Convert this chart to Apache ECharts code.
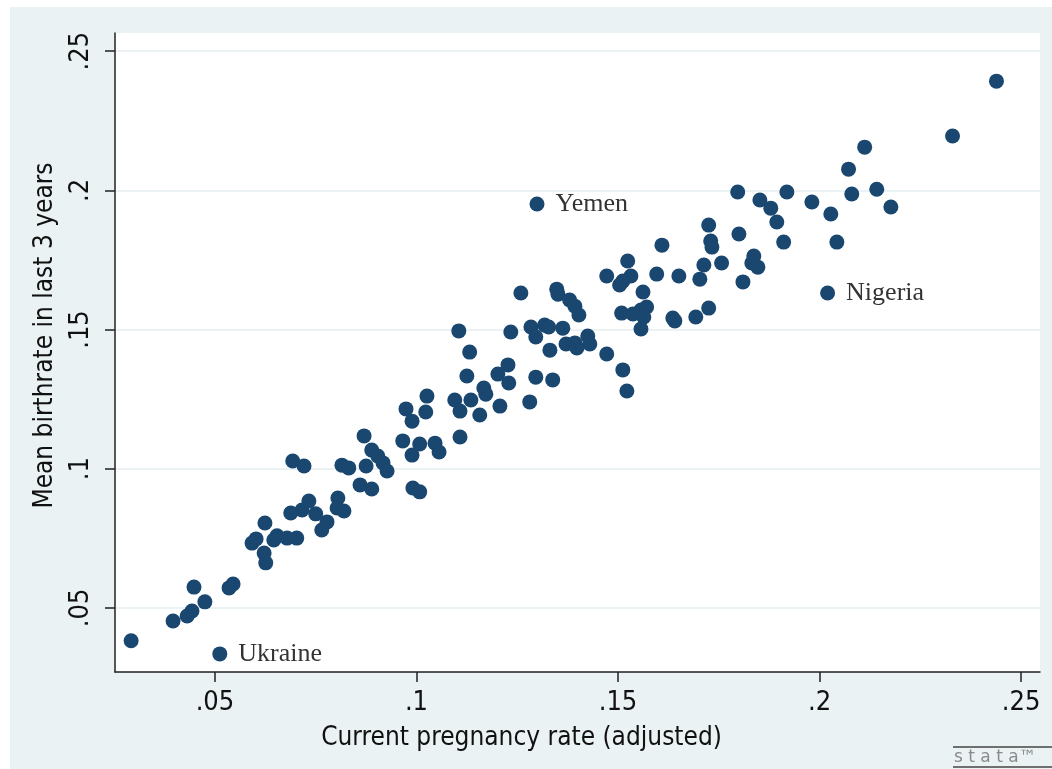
<!DOCTYPE html>
<html>
<head>
<meta charset="utf-8">
<script src="https://cdn.jsdelivr.net/npm/echarts@6/dist/echarts.min.js"></script>
<style>
  html, body { margin: 0; padding: 0; background: #fff; }
  #chart { width: 1052px; height: 769px; }
</style>
</head>
<body>
<div id="chart"></div>
<script>
// Datos (tasa de embarazo vs. natalidad)
const pregnancyRate = [
  0.0292, 0.0512, 0.0396, 0.0431, 0.0443, 0.0475, 0.0448, 0.0535, 0.0545, 0.0592,
  0.0602, 0.0624, 0.0622, 0.0626, 0.0646, 0.0654, 0.0679, 0.0703, 0.0688, 0.0716,
  0.0733, 0.0750, 0.0765, 0.0778, 0.0693, 0.0721, 0.0815, 0.0832, 0.0805, 0.0803,
  0.0820, 0.0860, 0.0889, 0.0870, 0.0889, 0.0904, 0.0917, 0.0927, 0.0875, 0.0966,
  0.1008, 0.1046, 0.1056, 0.0989, 0.0991, 0.1008, 0.0974, 0.1026, 0.1023, 0.0989,
  0.1105, 0.1132, 0.1125, 0.1095, 0.1108, 0.1135, 0.1157, 0.1108, 0.1167, 0.1172,
  0.1202, 0.1227, 0.1229, 0.1207, 0.1234, 0.1259, 0.1284, 0.1296, 0.1318, 0.1328,
  0.1363, 0.1331, 0.1371, 0.1393, 0.1398, 0.1425, 0.1430, 0.1472, 0.1512, 0.1522,
  0.1281, 0.1296, 0.1338, 0.1299, 0.1348, 0.1351, 0.1380, 0.1393, 0.1403, 0.1472,
  0.1524, 0.1532, 0.1512, 0.1504, 0.1562, 0.1509, 0.1537, 0.1557, 0.1571, 0.1564,
  0.1557, 0.1609, 0.1596, 0.1651, 0.1636, 0.1641, 0.1693, 0.1703, 0.1713, 0.1725,
  0.1725, 0.1730, 0.1733, 0.1757, 0.1797, 0.1800, 0.1810, 0.1832, 0.1837, 0.1847,
  0.1852, 0.1879, 0.1894, 0.1919, 0.1911, 0.1981, 0.2028, 0.2043, 0.2072, 0.2080,
  0.2112, 0.2142, 0.2177, 0.2330, 0.2439, 0.2020
];
const birthRate = [
  0.0382, 0.0335, 0.0453, 0.0471, 0.0489, 0.0522, 0.0575, 0.0572, 0.0586, 0.0733,
  0.0748, 0.0805, 0.0697, 0.0662, 0.0744, 0.0759, 0.0751, 0.0751, 0.0841, 0.0852,
  0.0884, 0.0838, 0.0780, 0.0809, 0.1028, 0.1010, 0.1013, 0.1003, 0.0895, 0.0859,
  0.0848, 0.0942, 0.0927, 0.1118, 0.1067, 0.1046, 0.1021, 0.0992, 0.1010, 0.1100,
  0.1089, 0.1092, 0.1060, 0.1049, 0.0931, 0.0917, 0.1215, 0.1261, 0.1204, 0.1171,
  0.1495, 0.1419, 0.1333, 0.1247, 0.1207, 0.1247, 0.1193, 0.1114, 0.1290, 0.1268,
  0.1340, 0.1373, 0.1308, 0.1225, 0.1491, 0.1631, 0.1509, 0.1473, 0.1516, 0.1509,
  0.1505, 0.1426, 0.1448, 0.1452, 0.1434, 0.1477, 0.1448, 0.1412, 0.1355, 0.1279,
  0.1240, 0.1329, 0.1319, 0.1951, 0.1645, 0.1627, 0.1606, 0.1584, 0.1552, 0.1692,
  0.1746, 0.1692, 0.1674, 0.1660, 0.1635, 0.1559, 0.1556, 0.1570, 0.1581, 0.1545,
  0.1502, 0.1803, 0.1699, 0.1692, 0.1541, 0.1531, 0.1545, 0.1681, 0.1732, 0.1577,
  0.1875, 0.1818, 0.1796, 0.1739, 0.1994, 0.1843, 0.1671, 0.1739, 0.1764, 0.1724,
  0.1965, 0.1936, 0.1886, 0.1994, 0.1814, 0.1958, 0.1915, 0.1814, 0.2076, 0.1987,
  0.2155, 0.2004, 0.1940, 0.2195, 0.2392, 0.1631
];
// Etiquetas de países (índice -> nombre)
const labelledIndex = [1, 83, 135];
const labelledName = ['Ukraine', 'Yemen', 'Nigeria'];

const xTicks = [0.05, 0.1, 0.15, 0.2, 0.25];
const yTicks = [0.05, 0.1, 0.15, 0.2, 0.25];

const xTitle = 'Current pregnancy rate (adjusted)';
const yTitle = 'Mean birthrate in last 3 years';

const MARKER = '#1a476f';
const BG = '#eaf2f3';
const sans = '"DejaVu Sans Condensed", "Liberation Sans Narrow", Arial, sans-serif';

function stripZero(v) {
    return String(v).replace(/^0\./, '.');
}

const points = pregnancyRate.map(function(x, i) {
    const k = labelledIndex.indexOf(i);
    const item = { value: [x, birthRate[i]] };
    if (k >= 0) {
        item.name = labelledName[k];
        item.label = { show: true };
    }
    return item;
});

const chart = echarts.init(document.getElementById('chart'));

chart.setOption({
    backgroundColor: '#ffffff',
    animation: false,
    graphic: [
        {
            type: 'rect',
            z: -100,
            silent: true,
            shape: { x: 10, y: 7, width: 1052, height: 769 },
            style: { fill: BG }
        },
        // Logo de Stata (abajo a la derecha)
        {
            type: 'line',
            shape: { x1: 953, y1: 747, x2: 1052, y2: 747 },
            style: { stroke: '#444', lineWidth: 1.5 }
        },
        {
            type: 'line',
            shape: { x1: 953, y1: 767, x2: 1052, y2: 767 },
            style: { stroke: '#444', lineWidth: 1.5 }
        },
        {
            type: 'text',
            x: 954,
            y: 749,
            style: {
                text: 's t a t a™',
                fill: '#8a8a8a',
                font: '17px "DejaVu Sans", sans-serif'
            }
        }
    ],
    grid: {
        left: 115,
        right: 12,
        top: 33,
        bottom: 97,
        show: true,
        backgroundColor: '#ffffff',
        borderWidth: 0
    },
    xAxis: {
        type: 'value',
        min: 0.0252,
        max: 0.2547,
        name: xTitle,
        nameLocation: 'middle',
        nameGap: 53,
        nameTextStyle: {
            fontFamily: sans,
            fontSize: 26,
            color: '#111',
            padding: [0, 112, 0, 0]
        },
        axisLine: { show: true, lineStyle: { color: '#222', width: 1.5 } },
        axisTick: {
            show: true,
            length: 10,
            customValues: xTicks,
            lineStyle: { color: '#222', width: 1.5 }
        },
        axisLabel: {
            customValues: xTicks,
            margin: 17,
            fontFamily: sans,
            fontSize: 27,
            color: '#111',
            formatter: stripZero
        },
        splitLine: { show: false }
    },
    yAxis: {
        type: 'value',
        min: 0.0270,
        max: 0.2565,
        name: yTitle,
        nameLocation: 'middle',
        nameGap: 57,
        nameRotate: 90,
        nameTextStyle: {
            fontFamily: sans,
            fontSize: 26,
            color: '#111',
            padding: [0, 0, 0, 34]
        },
        axisLine: { show: true, lineStyle: { color: '#222', width: 1.5 } },
        axisTick: {
            show: true,
            length: 10,
            customValues: yTicks,
            lineStyle: { color: '#222', width: 1.5 }
        },
        axisLabel: {
            customValues: yTicks,
            rotate: 90,
            margin: 21,
            fontFamily: sans,
            fontSize: 27,
            color: '#111',
            formatter: stripZero
        },
        splitLine: {
            show: true,
            lineStyle: { color: '#e3eef1', width: 1.5 }
        }
    },
    series: [{
        type: 'scatter',
        data: points,
        symbol: 'circle',
        symbolSize: 15,
        itemStyle: { color: MARKER, opacity: 1 },
        label: {
            show: false,
            position: 'right',
            distance: 11,
            formatter: '{b}',
            fontFamily: '"Liberation Serif", "Times New Roman", serif',
            fontSize: 26,
            color: '#333'
        },
        emphasis: { disabled: true }
    }]
});
</script>
</body>
</html>
